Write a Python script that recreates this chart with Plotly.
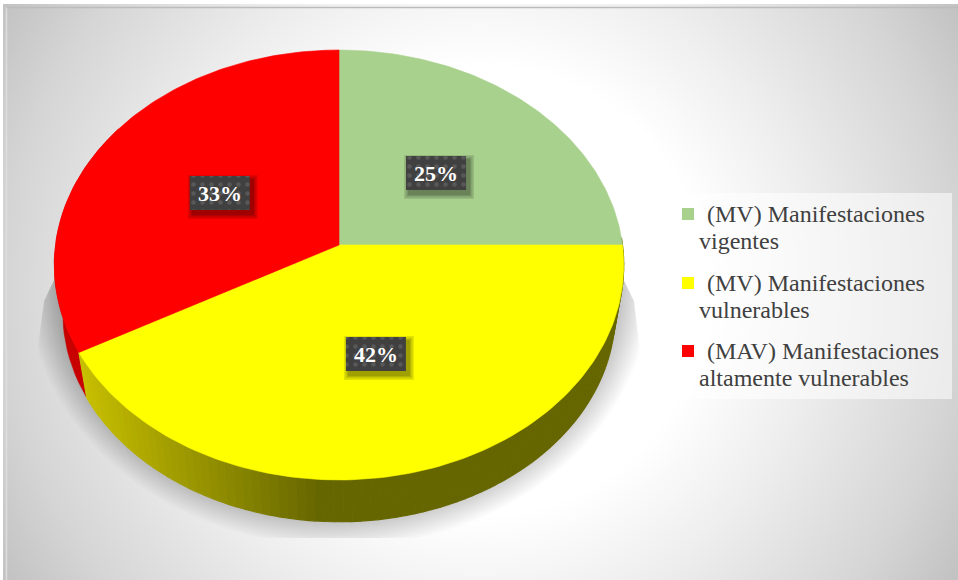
import numpy as np
import plotly.graph_objects as go

# --- chart values ---
categories = ["(MV) Manifestaciones<br>vigentes",
              "(MV) Manifestaciones<br>vulnerables",
              "(MAV) Manifestaciones<br>altamente vulnerables"]
first_lines = ["(MV) Manifestaciones", "(MV) Manifestaciones", "(MAV) Manifestaciones"]
second_lines = ["vigentes", "vulnerables", "altamente vulnerables"]
shares = [25, 42, 33]
slice_colors = ["#A9D18E", "#FFFF00", "#FF0000"]

W, H = 958, 580
CX = 339.0
PERSP = 0.093


def project(theta_deg, frac=1.0, rx=283.5, ry=213.1, cy=245.0):
    t = np.radians(np.asarray(theta_deg, dtype=float))
    u, v = np.sin(t) * frac, np.cos(t) * frac
    d = 1 + PERSP * v
    return CX + rx * u / d, cy - ry * v / d


def wall(theta_deg):
    return project(theta_deg, rx=275.0, ry=207.5, cy=293.0)


def poly(fig, xs, ys, color, line=0.6, **kw):
    fig.add_trace(go.Scatter(x=xs, y=ys, mode="lines", fill="toself", fillcolor=color,
                             line=dict(color=color, width=line), hoverinfo="skip",
                             showlegend=False, **kw))


fig = go.Figure()

# background radial gradient
gx = np.arange(7, W + 8, 8.0)
gy = np.arange(8, H + 8, 8.0)
GX, GY = np.meshgrid(gx, gy)
dist = np.hypot(GX - 480, GY - 290)
Z = np.interp(dist, [0, 225, 333, 475, 560], [255, 255, 238, 213, 193])
fig.add_trace(go.Heatmap(x=gx, y=gy, z=Z, zmin=0, zmax=255, zsmooth="best", showscale=False,
                         colorscale=[[0, "#000000"], [1, "#ffffff"]], hoverinfo="skip"))

# soft shadow below the pie, cut off by a tapered rectangle
n_layers = 26
tt = np.linspace(0, 360, 181)
for k in range(n_layers):
    f = k / (n_layers - 1)
    sx = CX + (272 + 40 * f) * np.sin(np.radians(tt))
    sy = 283 - (226 + 38 * f) * np.cos(np.radians(tt))
    sy = np.clip(sy, 268, 538)
    left = np.interp(sy, [268, 300, 360], [60, 44, 36])
    right = np.interp(sy, [268, 300, 365], [618, 634, 642])
    sx = np.clip(sx, left, right)
    poly(fig, sx, sy, "rgba(0,0,0,0.0125)", line=0)

# side wall
cum = np.cumsum([0] + shares) * 3.6
red_start, red_end = cum[2], 305.0
tw = np.linspace(red_start, red_end, 30)
xa, ya = project(tw)
xb, yb = wall(tw)
poly(fig, np.r_[xa, xb[::-1]], np.r_[ya, yb[::-1]], "#C80000")

edges = np.linspace(88.0, cum[2], 90)
for a, b in zip(edges[:-1], edges[1:]):
    tw = np.linspace(a, b, 4)
    xa, ya = project(tw)
    xb, yb = wall(tw)
    g = np.clip((xb.mean() - 87) / (320 - 87), 0, 1)
    c = "rgb(%d,%d,0)" % (200 + (102 - 200) * g, 192 + (102 - 192) * g)
    poly(fig, np.r_[xa, xb[::-1]], np.r_[ya, yb[::-1]], c, line=1.2)

# top faces
for i, col in enumerate(slice_colors):
    ta = np.linspace(cum[i], cum[i + 1], 120)
    xa, ya = project(ta)
    poly(fig, np.r_[CX, xa, CX], np.r_[245.0, ya, 245.0], col, name=categories[i])

# percentage labels
BW, BH = 60, 34
for i, share in enumerate(shares):
    mid = (cum[i] + cum[i + 1]) / 2
    lx, ly = project(mid, frac=0.5)
    ly += 1
    for grow in (5, 3.5, 2, 1):
        poly(fig, [lx - BW / 2 + 3 - grow, lx + BW / 2 + 3 + grow, lx + BW / 2 + 3 + grow, lx - BW / 2 + 3 - grow, lx - BW / 2 + 3 - grow],
             [ly - BH / 2 + 4 - grow, ly - BH / 2 + 4 - grow, ly + BH / 2 + 4 + grow, ly + BH / 2 + 4 + grow, ly - BH / 2 + 4 - grow],
             "rgba(0,0,0,0.11)", line=0)
    fig.add_trace(go.Scatter(
        x=[lx - BW / 2, lx + BW / 2, lx + BW / 2, lx - BW / 2, lx - BW / 2],
        y=[ly - BH / 2, ly - BH / 2, ly + BH / 2, ly + BH / 2, ly - BH / 2],
        mode="lines", fill="toself", line=dict(width=0), hoverinfo="skip", showlegend=False,
        fillcolor="#404040",
        fillpattern=dict(shape=".", bgcolor="#404040", fgcolor="#585858", size=9, solidity=0.2,
                         fillmode="replace")))
    fig.add_annotation(x=lx, y=ly + 0.5, text="<b>%d%%</b>" % share, showarrow=False,
                       font=dict(family="Liberation Serif", size=22, color="#ffffff"))

# legend panel
poly(fig, [670, 952, 952, 670, 670], [193, 193, 399, 399, 193], "rgba(255,255,255,0.55)", line=0)
key_y = [214, 283, 351]
for i, col in enumerate(slice_colors):
    fig.add_trace(go.Scatter(x=[688], y=[key_y[i]], mode="markers", hoverinfo="skip", showlegend=False,
                             marker=dict(symbol="square", size=12, color=col, line=dict(width=0))))
    fig.add_annotation(x=705, y=key_y[i], text=first_lines[i], xanchor="left", showarrow=False,
                       font=dict(family="Liberation Serif", size=24, color="#404040"))
    fig.add_annotation(x=696.5, y=key_y[i] + 26.5, text=second_lines[i], xanchor="left", showarrow=False,
                       font=dict(family="Liberation Serif", size=24, color="#404040"))

fig.update_layout(
    width=W, height=H, autosize=False, margin=dict(l=0, r=0, t=0, b=0),
    paper_bgcolor="#ffffff", plot_bgcolor="#ffffff", showlegend=False,
    xaxis=dict(range=[0, W], visible=False, fixedrange=True),
    yaxis=dict(range=[H, 0], visible=False, fixedrange=True),
    shapes=[
        dict(type="line", x0=6.5, x1=6.5, y0=7, y1=H, line=dict(color="#dddddd", width=1.5), layer="above"),
        dict(type="line", x0=6.5, x1=W, y0=7.5, y1=7.5, line=dict(color="#bcbcbc", width=1.5), layer="above"),
    ],
)
fig.write_html("out.html", config=dict(displayModeBar=False),
               post_script="document.body.style.margin='0';document.documentElement.style.overflow='hidden';")
